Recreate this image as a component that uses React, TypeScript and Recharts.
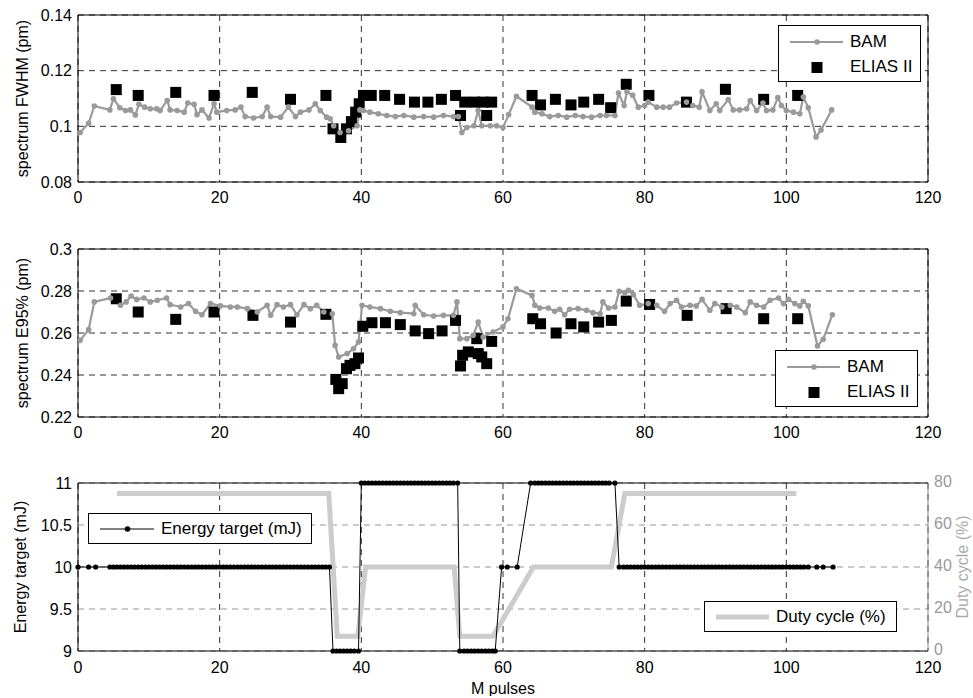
import React from 'react';
import { ComposedChart, Line, Scatter, XAxis, YAxis, CartesianGrid, ReferenceLine, Legend, Label } from 'recharts';

// axis ticks
const xTicks = [0, 20, 40, 60, 80, 100, 120];
const fwhmTicks = [0.08, 0.1, 0.12, 0.14];
const e95Ticks = [0.22, 0.24, 0.26, 0.28, 0.3];
const energyTicks = [9, 9.5, 10, 10.5, 11];
const dutyTicks = [0, 20, 40, 60, 80];

// spectrum FWHM (pm) - [M pulses, value]
const fwhmBam = [
    [0.3, 0.0978], [1.5, 0.1011], [2.3, 0.1073], [4.5, 0.1059], [5.0, 0.1099], [5.9, 0.1067], [6.7, 0.1057], [7.4, 0.1059],
    [8.1, 0.1041], [8.6, 0.1079], [9.4, 0.1069], [10.2, 0.1063], [11.1, 0.1063], [11.6, 0.1057], [12.6, 0.1093], [13.0, 0.1059],
    [14.0, 0.1057], [15.0, 0.1051], [15.5, 0.1084], [16.4, 0.1079], [16.8, 0.1042], [17.5, 0.1059], [18.5, 0.1030], [19.2, 0.1081],
    [19.6, 0.1051], [21.0, 0.1057], [22.2, 0.1059], [23.0, 0.1069], [23.6, 0.1035], [24.8, 0.1030], [26.0, 0.1035], [26.7, 0.1069],
    [27.2, 0.1035], [28.6, 0.1033], [29.7, 0.1069], [30.7, 0.1035], [31.4, 0.1051], [32.6, 0.1059], [33.5, 0.1081], [34.2, 0.1057],
    [35.1, 0.1033], [35.6, 0.1027], [36.1, 0.1002], [37.0, 0.0978], [38.2, 0.0984], [39.4, 0.1002], [39.8, 0.1059], [40.3, 0.1057],
    [41.2, 0.1051], [42.4, 0.1045], [43.6, 0.1039], [44.8, 0.1035], [46.0, 0.1039], [47.4, 0.1033], [48.8, 0.1035], [50.2, 0.1033],
    [51.6, 0.1039], [53.0, 0.1035], [53.7, 0.1035], [54.2, 0.0978], [54.9, 0.0996], [55.9, 0.1002], [56.5, 0.1057], [57.0, 0.1002],
    [58.2, 0.1002], [59.1, 0.1002], [60.0, 0.0996], [60.8, 0.1042], [61.9, 0.1108], [64.1, 0.1069], [64.5, 0.1051], [65.5, 0.1045],
    [66.6, 0.1035], [67.8, 0.1039], [69.0, 0.1033], [70.2, 0.1039], [71.3, 0.1035], [72.5, 0.1033], [73.7, 0.1039], [74.6, 0.1039],
    [75.8, 0.1039], [76.3, 0.1120], [77.1, 0.1075], [77.5, 0.1124], [78.3, 0.1112], [79.1, 0.1069], [80.0, 0.1075], [80.5, 0.1087],
    [81.7, 0.1069], [82.6, 0.1069], [83.5, 0.1069], [84.5, 0.1084], [85.9, 0.1087], [86.8, 0.1075], [87.7, 0.1069], [88.1, 0.1124],
    [89.2, 0.1057], [90.1, 0.1081], [90.6, 0.1057], [91.8, 0.1096], [92.5, 0.1059], [93.4, 0.1059], [94.4, 0.1063], [94.9, 0.1093],
    [95.8, 0.1057], [96.7, 0.1084], [97.2, 0.1057], [98.1, 0.1059], [98.8, 0.1103], [99.3, 0.1075], [100.0, 0.1057], [101.0, 0.1051],
    [101.9, 0.1045], [102.4, 0.1105], [103.1, 0.1067], [104.2, 0.0962], [104.9, 0.0987], [106.4, 0.1059],
];
const fwhmElias = [
    [5.4, 0.1132], [8.5, 0.1111], [13.8, 0.1122], [19.2, 0.1111], [24.6, 0.1122], [30.0, 0.1097], [35.0, 0.1111],
    [36.0, 0.0991], [37.1, 0.0960], [37.9, 0.0991], [38.6, 0.1017], [39.2, 0.1051], [39.7, 0.1081], [40.3, 0.1111],
    [41.4, 0.1111], [43.3, 0.1111], [45.4, 0.1097], [47.5, 0.1087], [49.4, 0.1087], [51.3, 0.1097], [53.3, 0.1111],
    [54.0, 0.1039], [54.6, 0.1087], [56.0, 0.1087], [57.2, 0.1087], [57.7, 0.1039], [58.4, 0.1087], [64.1, 0.1111],
    [65.3, 0.1077], [67.4, 0.1097], [69.6, 0.1077], [71.4, 0.1087], [73.5, 0.1097], [75.2, 0.1067], [77.4, 0.1151],
    [80.6, 0.1111], [85.9, 0.1087], [91.4, 0.1133], [96.8, 0.1097], [101.6, 0.1111],
];

// spectrum E95% (pm)
const e95Bam = [
    [0.3, 0.2565], [1.5, 0.2616], [2.3, 0.2748], [4.6, 0.2767], [6.0, 0.2732], [6.8, 0.2748], [7.5, 0.2776], [8.3, 0.2760],
    [9.3, 0.2767], [10.2, 0.2748], [11.2, 0.2756], [12.5, 0.2767], [13.0, 0.2735], [14.5, 0.2724], [15.6, 0.2740], [16.6, 0.2703],
    [17.5, 0.2687], [18.7, 0.2740], [20.1, 0.2729], [21.5, 0.2724], [22.5, 0.2724], [23.9, 0.2716], [25.3, 0.2700], [26.7, 0.2732],
    [27.2, 0.2684], [28.1, 0.2735], [29.0, 0.2724], [30.0, 0.2735], [30.9, 0.2687], [31.9, 0.2735], [32.8, 0.2716], [33.7, 0.2732],
    [34.7, 0.2700], [35.9, 0.2692], [36.3, 0.2541], [36.8, 0.2486], [38.0, 0.2502], [38.9, 0.2525], [39.6, 0.2557], [40.1, 0.2732],
    [41.2, 0.2724], [42.7, 0.2716], [44.1, 0.2703], [45.5, 0.2697], [47.4, 0.2692], [47.6, 0.2732], [48.8, 0.2687], [50.2, 0.2681],
    [51.6, 0.2684], [53.0, 0.2684], [53.5, 0.2748], [53.9, 0.2573], [54.9, 0.2573], [55.8, 0.2589], [56.5, 0.2652], [57.2, 0.2581],
    [58.6, 0.2605], [60.0, 0.2629], [60.7, 0.2668], [61.9, 0.2811], [64.1, 0.2779], [64.5, 0.2732], [65.2, 0.2719], [66.4, 0.2719],
    [67.3, 0.2703], [68.0, 0.2713], [68.7, 0.2687], [69.4, 0.2713], [70.6, 0.2716], [71.8, 0.2708], [72.7, 0.2697], [73.7, 0.2692],
    [74.1, 0.2748], [74.9, 0.2719], [75.8, 0.2724], [76.4, 0.2798], [77.2, 0.2792], [77.7, 0.2803], [78.4, 0.2783], [79.3, 0.2732],
    [80.5, 0.2740], [81.7, 0.2732], [82.8, 0.2703], [83.6, 0.2740], [84.5, 0.2756], [85.2, 0.2724], [86.4, 0.2732], [87.3, 0.2729],
    [88.1, 0.2760], [89.2, 0.2708], [89.9, 0.2740], [90.9, 0.2724], [92.1, 0.2732], [93.0, 0.2724], [94.2, 0.2697], [94.9, 0.2748],
    [95.8, 0.2732], [96.8, 0.2724], [97.7, 0.2756], [98.9, 0.2767], [99.6, 0.2740], [100.3, 0.2760], [101.2, 0.2740], [101.9, 0.2729],
    [102.4, 0.2751], [103.1, 0.2729], [104.4, 0.2538], [105.2, 0.2570], [106.5, 0.2687],
];
const e95Elias = [
    [5.4, 0.2763], [8.5, 0.2700], [13.8, 0.2665], [19.2, 0.2700], [24.7, 0.2684], [30.0, 0.2652], [35.0, 0.2689],
    [36.4, 0.2379], [36.8, 0.2335], [37.3, 0.2359], [37.9, 0.2430], [38.4, 0.2446], [39.1, 0.2454], [39.6, 0.2481],
    [40.2, 0.2632], [41.5, 0.2649], [43.4, 0.2649], [45.5, 0.2640], [47.6, 0.2610], [49.5, 0.2597], [51.4, 0.2610],
    [53.3, 0.2660], [54.0, 0.2443], [54.3, 0.2494], [55.1, 0.2510], [56.3, 0.2573], [56.5, 0.2502], [57.0, 0.2486],
    [57.7, 0.2454], [58.4, 0.2560], [64.2, 0.2668], [65.3, 0.2644], [67.5, 0.2600], [69.6, 0.2644], [71.4, 0.2629],
    [73.5, 0.2652], [75.3, 0.2660], [77.4, 0.2752], [80.7, 0.2736], [86.0, 0.2684], [91.5, 0.2716], [96.8, 0.2668],
    [101.6, 0.2668],
];

// Energy target (mJ)
const energyTarget = [
    [0, 10], [1.5, 10], [2.5, 10],
    [4.5, 10], [5, 10], [5.5, 10], [6, 10], [6.5, 10], [7, 10], [7.5, 10], [8, 10], [8.5, 10], [9, 10], [9.5, 10],
    [10, 10], [10.5, 10], [11, 10], [11.5, 10], [12, 10], [12.5, 10], [13, 10], [13.5, 10], [14, 10], [14.5, 10],
    [15, 10], [15.5, 10], [16, 10], [16.5, 10], [17, 10], [17.5, 10], [18, 10], [18.5, 10], [19, 10], [19.5, 10],
    [20, 10], [20.5, 10], [21, 10], [21.5, 10], [22, 10], [22.5, 10], [23, 10], [23.5, 10], [24, 10], [24.5, 10],
    [25, 10], [25.5, 10], [26, 10], [26.5, 10], [27, 10], [27.5, 10], [28, 10], [28.5, 10], [29, 10], [29.5, 10],
    [30, 10], [30.5, 10], [31, 10], [31.5, 10], [32, 10], [32.5, 10], [33, 10], [33.5, 10], [34, 10], [34.5, 10],
    [35, 10], [35.5, 10],
    [36, 9], [36.5, 9], [37, 9], [37.5, 9], [38, 9], [38.5, 9], [39, 9], [39.6, 9],
    [40, 11], [40.5, 11], [41, 11], [41.5, 11], [42, 11], [42.5, 11], [43, 11], [43.5, 11], [44, 11], [44.5, 11],
    [45, 11], [45.5, 11], [46, 11], [46.5, 11], [47, 11], [47.5, 11], [48, 11], [48.5, 11], [49, 11], [49.5, 11],
    [50, 11], [50.5, 11], [51, 11], [51.5, 11], [52, 11], [52.5, 11], [53, 11], [53.6, 11],
    [53.9, 9], [54.5, 9], [55, 9], [55.5, 9], [56, 9], [56.5, 9], [57, 9], [57.5, 9], [58, 9], [58.5, 9], [58.9, 9],
    [59.8, 10], [60.6, 10], [62.0, 10],
    [63.9, 11], [64.5, 11], [65, 11], [65.5, 11], [66, 11], [66.5, 11], [67, 11], [67.5, 11], [68, 11], [68.5, 11],
    [69, 11], [69.5, 11], [70, 11], [70.5, 11], [71, 11], [71.5, 11], [72, 11], [72.5, 11], [73, 11], [73.5, 11],
    [74, 11], [74.5, 11], [75, 11], [75.8, 11],
    [76.4, 10], [77, 10], [77.5, 10], [78, 10], [78.5, 10], [79, 10], [79.5, 10], [80, 10], [80.5, 10], [81, 10],
    [81.5, 10], [82, 10], [82.5, 10], [83, 10], [83.5, 10], [84, 10], [84.5, 10], [85, 10], [85.5, 10], [86, 10],
    [86.5, 10], [87, 10], [87.5, 10], [88, 10], [88.5, 10], [89, 10], [89.5, 10], [90, 10], [90.5, 10], [91, 10],
    [91.5, 10], [92, 10], [92.5, 10], [93, 10], [93.5, 10], [94, 10], [94.5, 10], [95, 10], [95.5, 10], [96, 10],
    [96.5, 10], [97, 10], [97.5, 10], [98, 10], [98.5, 10], [99, 10], [99.5, 10], [100, 10], [100.5, 10], [101, 10],
    [101.5, 10], [102, 10], [102.5, 10], [103.1, 10],
    [104.3, 10], [105.2, 10], [106.6, 10],
];

// Duty cycle (%)
const dutyCycle = [
    [5.5, 75], [35.4, 75], [36.6, 7], [39.5, 7], [40.6, 40], [53.1, 40], [53.9, 7], [58.6, 7],
    [64.3, 40], [75.3, 40], [77.2, 75], [101.4, 75],
];

const toPoints = (pairs: number[][]) => pairs.map(([x, y]) => ({ x, y }));

const font = "'Liberation Sans', Arial, Helvetica, sans-serif";
const tickStyle = { fontSize: 16, fill: '#000', fontFamily: font };
const labelStyle = { textAnchor: 'middle', fontSize: 16, fill: '#000', fontFamily: font } as any;
const BAM_GRAY = '#9a9a9a';

const Square = (props: any) => {
    const { cx, cy } = props;
    if (cx == null || cy == null) return null;
    return <rect x={cx - 5.5} y={cy - 5.5} width={11} height={11} fill="#000" />;
};

const SpectrumLegend = () => (
    <div style={{ position: 'relative', width: 141, height: 55, border: '1.3px solid #000', background: '#fff', fontFamily: font, fontSize: 17, color: '#000' }}>
        <svg width={141} height={55} style={{ position: 'absolute', left: 0, top: 0 }}>
            <line x1={11} y1={16} x2={64} y2={16} stroke={BAM_GRAY} strokeWidth={2} />
            <circle cx={38} cy={16} r={2.8} fill={BAM_GRAY} />
            <rect x={32.5} y={36} width={11} height={11} fill="#000" />
        </svg>
        <span style={{ position: 'absolute', left: 71, top: 6, lineHeight: '20px' }}>BAM</span>
        <span style={{ position: 'absolute', left: 71, top: 31, lineHeight: '20px' }}>ELIAS II</span>
    </div>
);

interface SpectrumPanelProps {
    top: number;
    height: number;
    bam: number[][];
    elias: number[][];
    domain: [number, number];
    ticks: number[];
    yLabel: string;
    legendLeft: number;
    legendTop: number;
}

const SpectrumPanel: React.FC<SpectrumPanelProps> = ({ top, height, bam, elias, domain, ticks, yLabel, legendLeft, legendTop }) => (
    <div style={{ position: 'absolute', left: 0, top }}>
        <ComposedChart width={973} height={height} margin={{ top: 15, right: 45, bottom: 0, left: 0 }}>
            <CartesianGrid stroke="#333" strokeDasharray="6 5" />
            <XAxis type="number" dataKey="x" domain={[0, 120]} ticks={xTicks} interval={0} height={30}
                stroke="#000" tickLine={false} tick={tickStyle} tickMargin={4} />
            <YAxis type="number" domain={domain} ticks={ticks} interval={0} width={78}
                stroke="#000" tickLine={false} tick={tickStyle} tickMargin={0}>
                <Label value={yLabel} angle={-90} position="insideLeft" offset={22} style={labelStyle} />
            </YAxis>
            <ReferenceLine y={domain[1]} stroke="#000" />
            <ReferenceLine x={120} stroke="#000" />
            <Line data={toPoints(bam)} dataKey="y" stroke={BAM_GRAY} strokeWidth={2.2}
                dot={{ r: 2.8, fill: BAM_GRAY, stroke: BAM_GRAY, strokeWidth: 0 }} activeDot={false} isAnimationActive={false} />
            <Scatter data={toPoints(elias)} dataKey="y" fill="#000" shape={Square} isAnimationActive={false} />
            <Legend verticalAlign="middle" content={() => <SpectrumLegend />}
                wrapperStyle={{ left: legendLeft, top: legendTop, width: 143, height: 57 }} />
        </ComposedChart>
    </div>
);

const EnergyLegends = () => (
    <div style={{ position: 'relative', width: 973, height: 229, fontFamily: font, fontSize: 17, color: '#000' }}>
        <div style={{ position: 'absolute', left: 88, top: 46, width: 222, height: 29, border: '1.3px solid #000', background: '#fff' }}>
            <svg width={222} height={29} style={{ position: 'absolute', left: 0, top: 0 }}>
                <line x1={11} y1={15} x2={65} y2={15} stroke="#000" strokeWidth={1} />
                <circle cx={38.5} cy={15} r={2.8} fill="#000" />
            </svg>
            <span style={{ position: 'absolute', left: 72, top: 5, lineHeight: '20px' }}>Energy target (mJ)</span>
        </div>
        <div style={{ position: 'absolute', left: 704, top: 134, width: 191, height: 29, border: '1.3px solid #000', background: '#fff' }}>
            <svg width={191} height={29} style={{ position: 'absolute', left: 0, top: 0 }}>
                <line x1={11} y1={15} x2={64} y2={15} stroke="#cccccc" strokeWidth={5} />
            </svg>
            <span style={{ position: 'absolute', left: 71, top: 5, lineHeight: '20px' }}>Duty cycle (%)</span>
        </div>
    </div>
);

const EnergyPanel: React.FC = () => (
    <div style={{ position: 'absolute', left: 0, top: 467 }}>
        <ComposedChart width={973} height={229} margin={{ top: 16, right: 0, bottom: 0, left: 0 }}>
            <CartesianGrid horizontal={false} stroke="#333" strokeDasharray="6 5" />
            <CartesianGrid vertical={false} stroke="#999" strokeDasharray="6 5" />
            <XAxis type="number" dataKey="x" domain={[0, 120]} ticks={xTicks} interval={0} height={45}
                stroke="#000" tickLine={false} tick={tickStyle} tickMargin={5}>
                <Label value="M pulses" position="insideBottom" offset={2} style={labelStyle} />
            </XAxis>
            <YAxis type="number" domain={[9, 11]} ticks={energyTicks} interval={0} width={78}
                stroke="#000" tickLine={false} tick={tickStyle} tickMargin={0}>
                <Label value="Energy target (mJ)" angle={-90} position="insideLeft" offset={20} style={labelStyle} />
            </YAxis>
            <YAxis yAxisId="right" orientation="right" type="number" domain={[0, 80]} ticks={dutyTicks} interval={0} width={45}
                stroke="#888" tickLine={false} tick={{ ...tickStyle, fill: '#999', dy: -2 }} tickMargin={0}>
                <Label value="Duty cycle (%)" angle={-90} position="insideRight" offset={11} style={{ ...labelStyle, fill: '#aaa' }} />
            </YAxis>
            <ReferenceLine y={11} stroke="#000" />
            <Line yAxisId="right" data={toPoints(dutyCycle)} dataKey="y" stroke="#cccccc" strokeWidth={5}
                dot={false} activeDot={false} isAnimationActive={false} />
            <Line data={toPoints(energyTarget)} dataKey="y" stroke="#000" strokeWidth={1}
                dot={{ r: 2.6, fill: '#000', stroke: '#000', strokeWidth: 0 }} activeDot={false} isAnimationActive={false} />
            <Legend verticalAlign="middle" content={() => <EnergyLegends />}
                wrapperStyle={{ left: 0, top: 0, width: 973, height: 229, pointerEvents: 'none' }} />
        </ComposedChart>
    </div>
);

export default function App() {
    return (
        <div style={{ position: 'absolute', left: 0, top: 0, width: 973, height: 698, background: '#fff', fontFamily: font }}>
            <SpectrumPanel top={0} height={212} bam={fwhmBam} elias={fwhmElias} domain={[0.08, 0.14]} ticks={fwhmTicks}
                yLabel="spectrum FWHM (pm)" legendLeft={778} legendTop={25} />
            <SpectrumPanel top={234} height={213} bam={e95Bam} elias={e95Elias} domain={[0.22, 0.3]} ticks={e95Ticks}
                yLabel="spectrum E95% (pm)" legendLeft={775} legendTop={116} />
            <EnergyPanel />
        </div>
    );
}
